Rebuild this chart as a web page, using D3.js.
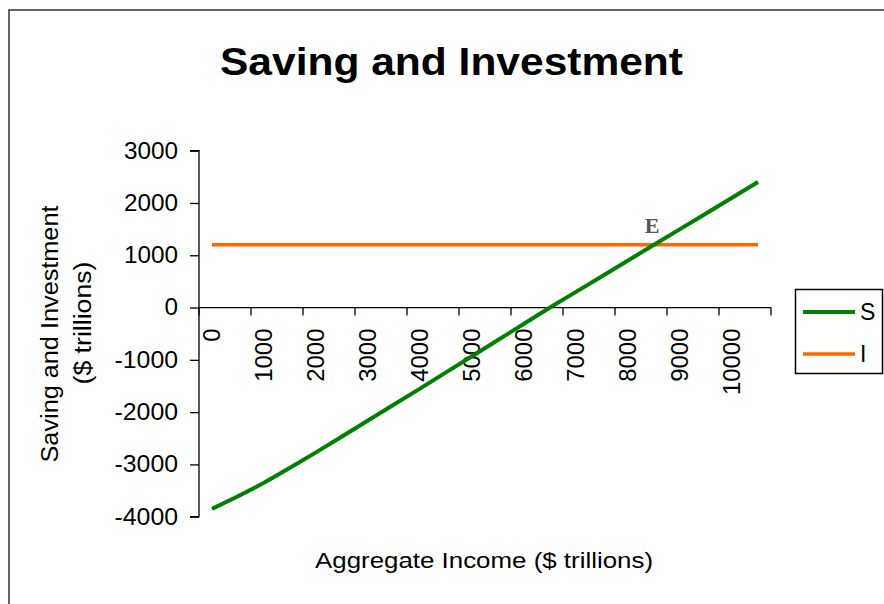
<!DOCTYPE html>
<html>
<head>
<meta charset="utf-8">
<script src="https://cdn.jsdelivr.net/npm/d3@7"></script>
<style>
  html, body { margin: 0; padding: 0; background: #fff; }
  svg { display: block; }
</style>
</head>
<body>
<svg id="chart" width="884" height="604"></svg>
<script>
// ---- data ----
const incomeCategories = [0, 500, 1000, 1500, 2000, 2500, 3000, 3500, 4000, 4500, 5000,
  5500, 6000, 6500, 7000, 7500, 8000, 8500, 9000, 9500, 10000, 10500];
const savingValues = [-3850, -3610, -3350, -3065, -2770, -2465, -2160, -1855, -1550, -1240, -930,
  -620, -310, 0, 300, 600, 900, 1200, 1500, 1800, 2100, 2400];
const investmentValues = [1200, 1200, 1200, 1200, 1200, 1200, 1200, 1200, 1200, 1200, 1200,
  1200, 1200, 1200, 1200, 1200, 1200, 1200, 1200, 1200, 1200, 1200];
const yTickValues = [3000, 2000, 1000, 0, -1000, -2000, -3000, -4000];
const xTickLabels = [0, 1000, 2000, 3000, 4000, 5000, 6000, 7000, 8000, 9000, 10000];
const seriesNames = ["S", "I"];
const seriesColors = ["#008000", "#ff6600"];
const equilibrium = { income: 8500, value: 1200, label: "E" };

// ---- layout ----
const SANS = "'Liberation Sans', Arial, sans-serif";
const SERIF = "'Liberation Serif', 'Times New Roman', serif";
const svg = d3.select("#chart").style("font-family", SANS);
const plot = { left: 199, right: 771, top: 150.7, bottom: 516.7 };

// outer chart border
svg.append("rect").attr("x", 9).attr("y", 10).attr("width", 900).attr("height", 620)
  .attr("fill", "#fff").attr("stroke", "#333").attr("stroke-width", 1.5);

const x = d3.scalePoint().domain(incomeCategories).range([plot.left, plot.right]).padding(0.5);
const step = x.step();
const y = d3.scaleLinear().domain([-4000, 3000]).range([plot.bottom, plot.top]);

// title
svg.append("text").attr("x", 451.5).attr("y", 75).attr("text-anchor", "middle")
  .attr("font-size", 38).attr("font-weight", "bold").attr("fill", "#000")
  .attr("textLength", 463).attr("lengthAdjust", "spacingAndGlyphs")
  .text("Saving and Investment");

// y axis
const yAxis = d3.axisLeft(y).tickValues(yTickValues).tickSize(9).tickPadding(12)
  .tickFormat(d => String(d));
const gy = svg.append("g").attr("transform", `translate(${plot.left},0)`).call(yAxis);
gy.attr("font-family", null).attr("font-size", null);
gy.select(".domain").attr("stroke", "#000").attr("stroke-width", 1.3).attr("d", `M-9,${plot.top}H0V${plot.bottom}H-9`);
gy.selectAll(".tick line").attr("stroke", "#000").attr("stroke-width", 1.3);
gy.selectAll(".tick text").attr("font-size", 23).attr("fill", "#000")
  .attr("textLength", d => String(d).length * 13.5 - (d < 0 ? 4 : 0))
  .attr("lengthAdjust", "spacingAndGlyphs");

// x axis (category axis crossing at 0)
const y0 = y(0);
const gx = svg.append("g");
gx.append("line").attr("x1", plot.left).attr("x2", plot.right).attr("y1", y0).attr("y2", y0)
  .attr("stroke", "#000").attr("stroke-width", 1.3);
const tickCats = incomeCategories.filter((d, i) => i % 2 === 0);
gx.selectAll("line.xt").data(tickCats.concat(["end"])).join("line").attr("class", "xt")
  .attr("x1", (d, i) => i < tickCats.length ? x(d) - step / 2 : plot.right)
  .attr("x2", (d, i) => i < tickCats.length ? x(d) - step / 2 : plot.right)
  .attr("y1", y0).attr("y2", y0 + 8).attr("stroke", "#000").attr("stroke-width", 1.3);
gx.selectAll("text.xl").data(xTickLabels).join("text").attr("class", "xl")
  .attr("transform", d => `translate(${x(d)},${y0 + 21}) rotate(-90)`)
  .attr("text-anchor", "end").attr("dy", "0.36em")
  .attr("font-size", 23).attr("fill", "#000")
  .attr("textLength", d => String(d).length * 13.3)
  .attr("lengthAdjust", "spacingAndGlyphs")
  .text(d => d);

// axis titles
svg.append("text").attr("transform", "translate(58,334) rotate(-90)")
  .attr("text-anchor", "middle").attr("font-size", 23).attr("fill", "#000")
  .attr("textLength", 257).attr("lengthAdjust", "spacingAndGlyphs").text("Saving and Investment");
svg.append("text").attr("transform", "translate(91,323) rotate(-90)")
  .attr("text-anchor", "middle").attr("font-size", 23).attr("fill", "#000")
  .attr("textLength", 123).attr("lengthAdjust", "spacingAndGlyphs").text("($ trillions)");
svg.append("text").attr("x", 484).attr("y", 568).attr("text-anchor", "middle")
  .attr("font-size", 22).attr("fill", "#000")
  .attr("textLength", 338).attr("lengthAdjust", "spacingAndGlyphs")
  .text("Aggregate Income ($ trillions)");

// lines
const line = d3.line().x(d => x(d[0])).y(d => y(d[1]));
const seriesData = [savingValues, investmentValues].map(vals => incomeCategories.map((c, i) => [c, vals[i]]));
svg.append("path").datum(seriesData[1]).attr("d", line).attr("fill", "none")
  .attr("stroke", seriesColors[1]).attr("stroke-width", 3.5);
svg.append("path").datum(seriesData[0]).attr("d", line).attr("fill", "none")
  .attr("stroke", seriesColors[0]).attr("stroke-width", 4).attr("stroke-linejoin", "round");

// equilibrium label
svg.append("text").attr("x", x(equilibrium.income) - 2).attr("y", y(equilibrium.value) - 12)
  .attr("text-anchor", "middle").style("font-family", SERIF)
  .attr("font-size", 22).attr("font-weight", "bold").attr("fill", "#555").text(equilibrium.label);

// legend
const lg = svg.append("g");
lg.append("rect").attr("x", 795.5).attr("y", 289.5).attr("width", 87).attr("height", 84)
  .attr("fill", "#fff").attr("stroke", "#000").attr("stroke-width", 1.5);
seriesNames.forEach((name, i) => {
  const ly = 312 + i * 42;
  lg.append("line").attr("x1", 803).attr("x2", 855).attr("y1", ly).attr("y2", ly)
    .attr("stroke", seriesColors[i]).attr("stroke-width", i === 0 ? 4 : 3.5);
  lg.append("text").attr("x", 860).attr("y", ly).attr("dy", "0.36em")
    .attr("font-size", 23).attr("fill", "#000").text(name);
});
</script>
</body>
</html>
